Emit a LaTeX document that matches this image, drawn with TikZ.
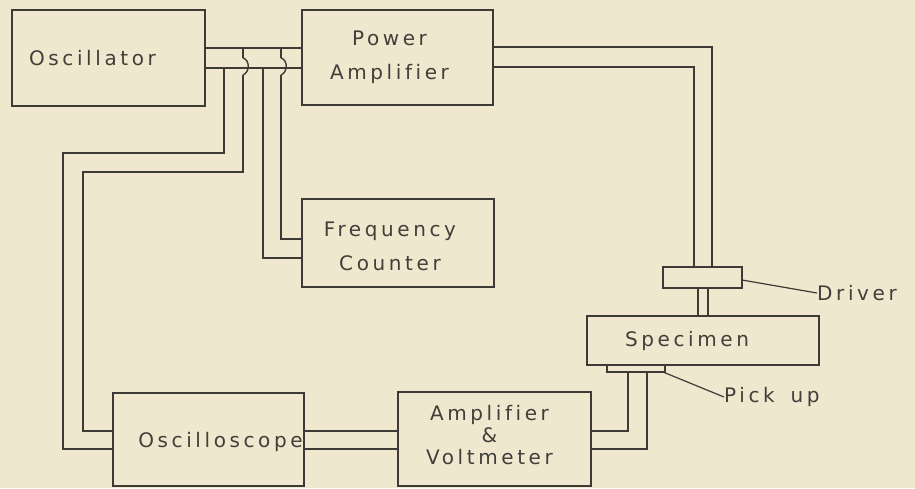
\documentclass[tikz,border=0pt]{standalone}
\usepackage{fontspec}
\setmainfont{DejaVu Sans}[LetterSpace=18,Ligatures=NoCommon]
\definecolor{paper}{RGB}{239,232,207}
\definecolor{ink}{RGB}{62,58,54}
\definecolor{txtink}{RGB}{66,62,58}
\begin{document}
\begin{tikzpicture}[x=1pt,y=-1pt,
  box/.style={draw=ink,line width=1.9pt,inner sep=0pt,outer sep=0pt,rectangle},
  wire/.style={draw=ink,line width=1.4pt,line join=miter},
  lead/.style={draw=ink,line width=1.2pt},
  txt/.style={text=txtink,font=\fontsize{20}{34}\selectfont,align=center,inner sep=0pt}]
\fill[paper] (0,0) rectangle (915,488);
\useasboundingbox (0,0) rectangle (915,488);

% boxes
\node[box,minimum width=193pt,minimum height=96pt,
  label={[txt,xshift=-16pt]center:Oscillator}] (osc) at (108.5,58) {};
\node[box,minimum width=191pt,minimum height=95pt,
  label={[txt,xshift=-8pt]center:Power\\Amplifier}] (pa) at (397.5,57.5) {};
\node[box,minimum width=192pt,minimum height=88pt,
  label={[txt,xshift=-8pt,yshift=-3pt]center:Frequency\\Counter}] (fc) at (398,243) {};
\node[box,minimum width=191pt,minimum height=93pt,
  label={[txt,xshift=12pt,yshift=-2pt]center:Oscilloscope}] (scope) at (208.5,439.5) {};
\node[box,minimum width=193pt,minimum height=94pt,
  label={[txt,font=\fontsize{20}{22}\selectfont,xshift=-5pt,yshift=4pt]center:Amplifier\\\&\\Voltmeter}] (av) at (494.5,439) {};
\node[box,minimum width=79pt,minimum height=21pt] (driver) at (702.5,277.5) {};
\node[box,minimum width=232pt,minimum height=49pt,
  label={[txt,xshift=-16pt]center:Specimen}] (spec) at (703,340.5) {};
\node[box,line width=1.5pt,minimum width=58pt,minimum height=7pt] (pickup) at (636,368.5) {};

% side labels
\node[txt,anchor=west] (drvtxt) at (817,293) {Driver};
\node[txt,anchor=west] (putxt) at (724,397) {Pick\hspace{6pt} up};
\draw[lead] (driver.east |- 0,280) -- (drvtxt.west);
\draw[lead] ([xshift=-2pt]pickup.south east) -- (putxt.west);

% oscillator -> power amplifier
\draw[wire] (osc.east |- 0,48) -- (pa.west |- 0,48);
\draw[wire] (osc.east |- 0,68) -- (pa.west |- 0,68);

% junction points on the cable
\coordinate (j1) at (224,68);
\coordinate (j2) at (243,48);
\coordinate (j3) at (263,68);
\coordinate (j4) at (281,48);
\coordinate (h2a) at (243,58);
\coordinate (h2b) at (243,75);
\coordinate (h4a) at (281,58);
\coordinate (h4b) at (281,75);

% to oscilloscope
\draw[wire] (j1) -- (224,153) -- (63,153) -- (63,449) -- (scope.west |- 0,449);
\draw[wire] (j2) -- (h2a);
\draw[wire] (h2a) .. controls (250,60) and (250,72) .. (h2b);
\draw[wire] (h2b) -- (243,172) -- (83,172) -- (83,431) -- (scope.west |- 0,431);

% to frequency counter
\draw[wire] (j3) -- (263,258) -- (fc.west |- 0,258);
\draw[wire] (j4) -- (h4a);
\draw[wire] (h4a) .. controls (288,60) and (288,72) .. (h4b);
\draw[wire] (h4b) -- (281,239) -- (fc.west |- 0,239);

% power amplifier -> driver
\draw[wire] (pa.east |- 0,47) -| ([xshift=9.5pt]driver.north);
\draw[wire] (pa.east |- 0,67) -| ([xshift=-8.5pt]driver.north);

% driver -> specimen
\draw[wire] ([xshift=-4.5pt]driver.south) -- ([xshift=-4.5pt]driver.south |- spec.north);
\draw[wire] ([xshift=5.5pt]driver.south) -- ([xshift=5.5pt]driver.south |- spec.north);

% pick up -> amplifier & voltmeter
\draw[wire] ([xshift=-8pt]pickup.south) |- (av.east |- 0,431);
\draw[wire] ([xshift=11pt]pickup.south) |- (av.east |- 0,449);

% oscilloscope <-> amplifier & voltmeter
\draw[wire] (scope.east |- 0,431) -- (av.west |- 0,431);
\draw[wire] (scope.east |- 0,449) -- (av.west |- 0,449);
\end{tikzpicture}
\end{document}
